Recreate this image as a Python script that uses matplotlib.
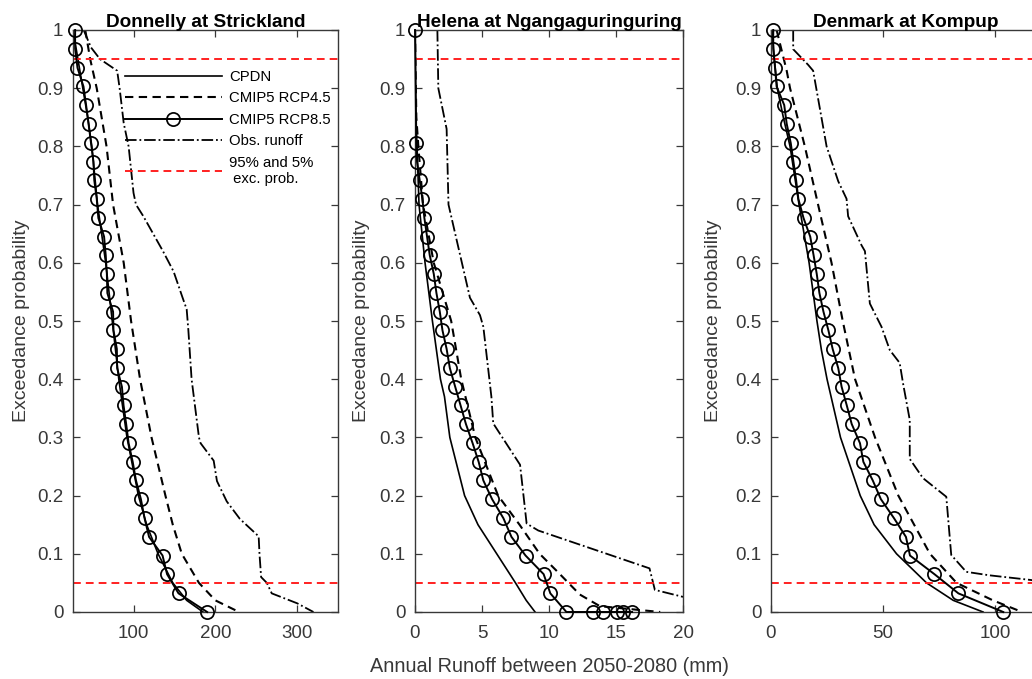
import numpy as np
import matplotlib
matplotlib.use("Agg")
import matplotlib.pyplot as plt

plt.rcParams['font.family'] = ['Liberation Sans', 'DejaVu Sans']

GREY = '#383838'
titles = ["Donnelly at Strickland", "Helena at Ngangaguringuring", "Denmark at Kompup"]
xlims = [(26, 350), (0, 20), (0, 120)]
xticks = [[100, 200, 300], [0, 5, 10, 15, 20], [0, 50, 100]]

# plotting positions of the 32 CMIP5 RCP8.5 values
p32 = [1.0, 0.968, 0.935, 0.903, 0.871, 0.839, 0.806, 0.774, 0.742, 0.710, 0.677,
       0.645, 0.613, 0.581, 0.548, 0.516, 0.484, 0.452, 0.419, 0.387, 0.355, 0.323,
       0.290, 0.258, 0.226, 0.194, 0.161, 0.129, 0.097, 0.065, 0.032, 0.0]

# ---- Donnelly at Strickland
cpdn_p1 = [1.0, 0.95, 0.9, 0.85, 0.8, 0.7, 0.6, 0.5, 0.4, 0.3, 0.2, 0.15, 0.1, 0.05, 0.02, 0.0]
cpdn_x1 = [26, 32, 38, 44, 49, 56, 66, 74, 82, 92, 106, 116, 130, 148, 165, 185]
rcp45_p1 = [1.0, 0.95, 0.9, 0.85, 0.8, 0.7, 0.6, 0.5, 0.4, 0.3, 0.2, 0.15, 0.1, 0.05, 0.02, 0.0]
rcp45_x1 = [41, 47, 55, 61, 67, 75, 88, 97, 108, 122, 139, 148, 159, 180, 200, 229]
rcp85_p1 = p32
rcp85_x1 = [28.6, 28.6, 31.5, 38.8, 42, 45, 48, 51, 52, 55, 57, 64, 66, 67.4, 68, 75,
            75.5, 79.6, 80, 85.8, 87.8, 91, 94, 99, 103, 109, 113.5, 119, 135.5, 141, 155, 190]
obs_p1 = [1.0, 0.97, 0.95, 0.93, 0.9, 0.84, 0.8, 0.72, 0.7, 0.68, 0.62, 0.585, 0.54, 0.52,
          0.485, 0.4, 0.3, 0.29, 0.26, 0.225, 0.19, 0.16, 0.13, 0.1, 0.06, 0.05, 0.032, 0.015, 0.0]
obs_x1 = [39, 48, 59, 80, 83, 88, 94, 100, 103, 112, 136, 149, 160, 165,
          167, 171, 180, 182, 198, 202, 214, 230, 253, 254, 256, 263, 269, 300, 320]

# ---- Helena at Ngangaguringuring
cpdn_p2 = [1.0, 0.9, 0.85, 0.8, 0.7, 0.6, 0.5, 0.45, 0.4, 0.37, 0.3, 0.2, 0.15, 0.1, 0.05, 0.02, 0.0]
cpdn_x2 = [0.0, 0.02, 0.05, 0.15, 0.3, 0.75, 1.3, 1.6, 1.9, 2.2, 2.6, 3.7, 4.7, 6.1, 7.5, 8.3, 8.96]
rcp45_p2 = [1.0, 0.85, 0.8, 0.7, 0.6, 0.5, 0.4, 0.3, 0.25, 0.2, 0.15, 0.1, 0.07, 0.03, 0.01, 0.0]
rcp45_x2 = [0.0, 0.1, 0.25, 0.6, 1.4, 2.7, 3.45, 4.5, 5.35, 6.2, 7.8, 9.3, 10.6, 12.3, 13.8, 18.3]
rcp85_p2 = [1.0, 0.806, 0.774, 0.742, 0.710, 0.677, 0.645, 0.613, 0.581, 0.548, 0.516,
            0.484, 0.452, 0.419, 0.387, 0.355, 0.323, 0.290, 0.258, 0.226, 0.194, 0.161,
            0.129, 0.097, 0.065, 0.032, 0.0, 0.0, 0.0, 0.0, 0.0, 0.0]
rcp85_x2 = [0.0, 0.1, 0.15, 0.35, 0.55, 0.7, 0.9, 1.1, 1.4, 1.6, 1.85, 2.05, 2.36, 2.6,
            3.0, 3.4, 3.8, 4.3, 4.75, 5.1, 5.75, 6.6, 7.2, 8.25, 9.6, 10.1,
            11.3, 13.3, 14.05, 15.05, 15.55, 16.2]
obs_p2 = [1.0, 0.9, 0.83, 0.7, 0.65, 0.59, 0.54, 0.51, 0.49, 0.37, 0.324, 0.253,
          0.152, 0.14, 0.075, 0.038, 0.026]
obs_x2 = [1.67, 1.74, 2.36, 2.5, 3.0, 3.6, 4.1, 4.85, 5.1, 5.7, 5.84, 7.84,
          8.33, 9.2, 17.5, 17.9, 20.0]

# ---- Denmark at Kompup
cpdn_p3 = [1.0, 0.95, 0.9, 0.85, 0.8, 0.7, 0.6, 0.5, 0.45, 0.4, 0.3, 0.2, 0.15, 0.1, 0.05, 0.02, 0.0]
cpdn_x3 = [0.5, 1.5, 2.8, 5.5, 8.5, 12.5, 17.0, 20.5, 22.5, 25, 31, 39.8, 46, 56, 69.4, 81.3, 94.6]
rcp45_p3 = [1.0, 0.93, 0.9, 0.8, 0.7, 0.6, 0.5, 0.4, 0.3, 0.2, 0.1, 0.05, 0.02, 0.0]
rcp45_x3 = [2.5, 7, 8.5, 15.1, 21, 27, 32, 37.5, 46.4, 56.8, 70.9, 82.8, 99, 112]
rcp85_p3 = p32
rcp85_x3 = [1.0, 1.0, 1.8, 2.5, 5.9, 7.0, 8.8, 10.0, 11.2, 12.2, 14.5, 17.5, 19.0, 20.4,
            21.6, 23.4, 25.6, 27.5, 30.0, 31.5, 33.8, 36.0, 39.7, 41.2, 45.4, 49.0,
            54.9, 60.2, 62.0, 72.9, 83.6, 103.6]
obs_p3 = [1.0, 0.967, 0.94, 0.93, 0.8, 0.74, 0.71, 0.68, 0.63, 0.62, 0.53, 0.49, 0.45,
          0.428, 0.393, 0.33, 0.263, 0.23, 0.198, 0.098, 0.069, 0.063, 0.055, 0.05]
obs_x3 = [9.9, 9.9, 16.6, 18.8, 24.8, 30, 33.7, 34.4, 40.4, 41.9, 44.1, 49.3, 53,
          57.4, 58.9, 61.9, 61.9, 67.8, 78.2, 80.4, 87.1, 97.5, 116, 125]

exc_levels = [0.95, 0.05]

panels = [
    (cpdn_x1, cpdn_p1, rcp45_x1, rcp45_p1, rcp85_x1, rcp85_p1, obs_x1, obs_p1),
    (cpdn_x2, cpdn_p2, rcp45_x2, rcp45_p2, rcp85_x2, rcp85_p2, obs_x2, obs_p2),
    (cpdn_x3, cpdn_p3, rcp45_x3, rcp45_p3, rcp85_x3, rcp85_p3, obs_x3, obs_p3),
]

W, H = 1032, 679
fig = plt.figure(figsize=(W / 100, H / 100), dpi=100)
lefts = [73, 415, 771]
widths = [265, 268, 269]
ylab_x = [30, 370, 722]   # right edge of the rotated ylabel, px
top, bottom = 30, 612

for i, (cx, cp, dx, dp, mx, mp, ox, op) in enumerate(panels):
    ax = fig.add_axes([lefts[i] / W, (H - bottom) / H, widths[i] / W, (bottom - top) / H])
    ax.plot(cx, cp, '-', color='black', lw=1.2, label='CPDN')
    ax.plot(dx, dp, '--', color='black', lw=1.5, dashes=(4, 2.6), label='CMIP5 RCP4.5')
    ax.plot(mx, mp, '-', color='black', lw=1.4, marker='o', ms=9.5, mfc='none',
            mec='black', mew=1.25, label='CMIP5 RCP8.5', clip_on=False, zorder=3)
    ax.plot(ox, op, '-.', color='black', lw=1.3, label='Obs. runoff')
    for k, lev in enumerate(exc_levels):
        ax.axhline(lev, color='#ff2020', lw=1.4, ls='--', dashes=(4, 2.6),
                   label='95% and 5%\n exc. prob.' if k == 0 else None)
    ax.set_xlim(*xlims[i])
    ax.set_ylim(0, 1)
    ax.set_xticks(xticks[i])
    ax.set_yticks(np.arange(0, 1.01, 0.1))
    ax.set_yticklabels(['%g' % round(v, 1) for v in np.arange(0, 1.01, 0.1)])
    ax.tick_params(direction='in', top=True, right=True, length=5, width=0.9,
                   colors=GREY, labelsize=13.5, labelcolor=GREY)
    ax.tick_params(axis='y', pad=7)
    ax.tick_params(axis='x', pad=9)
    for s in ax.spines.values():
        s.set_color(GREY)
        s.set_linewidth(1.0)
    ax.set_title(titles[i], fontsize=13.7, fontweight='bold', pad=2)
    ax.set_ylabel('Exceedance probability', fontsize=14, color=GREY)
    ax.yaxis.set_label_coords((ylab_x[i] - lefts[i]) / widths[i], 0.5)
    if i == 0:
        ax.legend(loc='upper left', bbox_to_anchor=(125 / W, 1 - 70 / H),
                  bbox_transform=fig.transFigure, frameon=False, fontsize=10.7,
                  handlelength=6.5, handletextpad=0.5, labelspacing=0.5,
                  borderpad=0, borderaxespad=0)

fig.text(549 / W, 1 - 666 / H, 'Annual Runoff between 2050-2080 (mm)', ha='center',
         va='center', fontsize=14.3, color=GREY)

fig.savefig('out.png', dpi=100)
